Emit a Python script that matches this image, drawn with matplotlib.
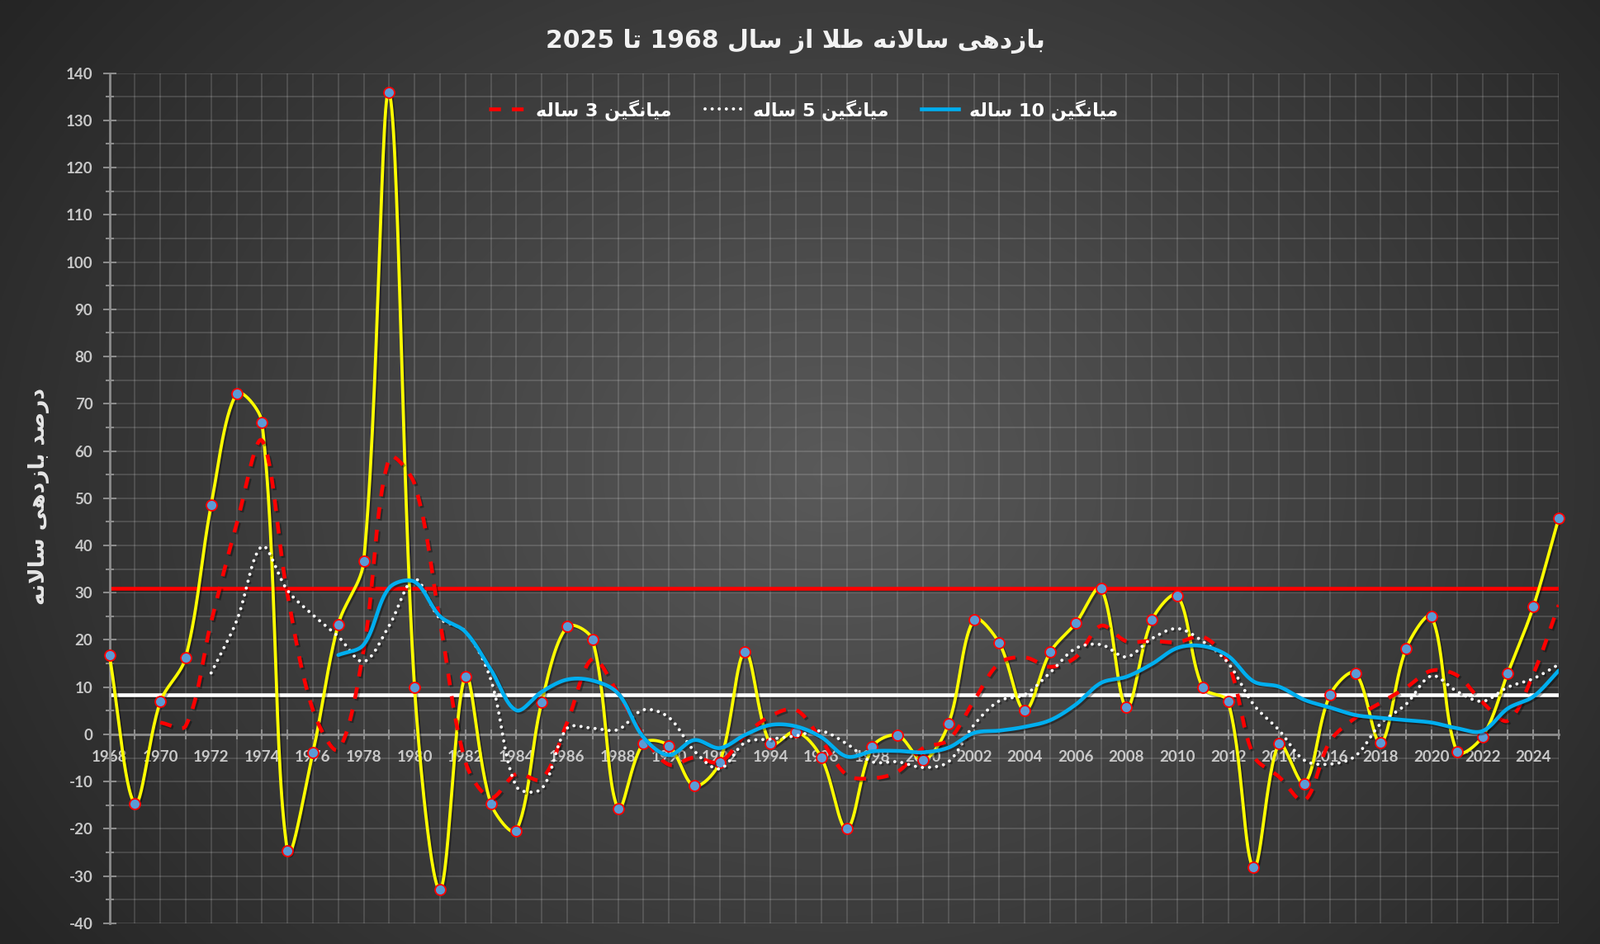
import numpy as np
import matplotlib
matplotlib.use("Agg")
import matplotlib.pyplot as plt
from matplotlib.lines import Line2D
import matplotlib.patheffects as pe
from matplotlib.font_manager import FontProperties

plt.rcParams["axes.unicode_minus"] = False

# ---------------- data ----------------
years = list(range(1968, 2026))
returns = [16.7, -14.6, 6.9, 16.3, 48.5, 72.1, 66.1, -24.7, -3.9, 23.3,
           36.6, 135.9, 9.9, -32.9, 12.3, -14.6, -20.4, 6.8, 22.8, 20.0,
           -15.7, -1.9, -2.4, -10.9, -5.9, 17.5, -2.0, 0.6, -4.9, -20.0,
           -2.7, -0.2, -5.5, 2.2, 24.3, 19.3, 5.1, 17.4, 23.5, 30.9,
           5.7, 24.2, 29.4, 9.9, 6.9, -28.2, -2.0, -10.4, 8.3, 13.0,
           -1.8, 18.2, 24.9, -3.7, -0.5, 13.0, 27.0, 45.8]

ma3_start = 1970
ma3 = [2.5, 1.8, 23.8, 44.5, 62.2, 29.7, 5.2, -3.2, 18.0, 58.5,
       53.0, 23.9, -5.8, -13.4, -8.4, -9.5, 2.5, 16.0, 8.7, -0.3,
       -6.4, -4.9, -5.9, -0.2, 3.9, 5.2, -1.2, -8.6, -9.3, -7.9,
       -2.9, -1.2, 7.1, 15.1, 16.3, 14.3, 16.3, 23.0, 19.7, 19.8,
       19.5, 20.7, 15.1, -4.5, -9.0, -14.0, -1.5, 3.5, 6.7, 9.9,
       13.5, 12.5, 6.8, 2.9, 12.8, 27.4]

ma5_start = 1972
ma5 = [13.0, 24.0, 39.8, 30.5, 25.3, 20.7, 15.4, 23.0, 32.9, 24.5,
       21.8, 11.6, -11.0, -11.5, 1.3, 1.3, 1.0, 5.2, 3.6, -3.5,
       -7.3, -1.7, -1.0, -0.3, 0.7, -2.0, -5.8, -5.8, -7.0, -5.8,
       2.0, 7.1, 8.4, 13.1, 18.2, 19.0, 16.4, 20.3, 22.4, 19.7,
       15.1, 6.3, 0.9, -5.5, -6.3, -4.6, 2.3, 6.4, 12.4, 9.1,
       7.0, 10.0, 11.8, 14.8]

ma10_start = 1977
ma10 = [16.8, 19.0, 31.0, 32.3, 25.0, 21.7, 13.7, 5.1, 9.0, 11.6,
        11.4, 8.7, -0.6, -4.4, -1.2, -2.9, -0.1, 2.0, 1.7, -0.6,
        -4.7, -3.6, -3.5, -3.8, -2.8, 0.3, 0.8, 1.6, 3.0, 6.3,
        10.9, 12.2, 14.9, 18.3, 18.7, 16.6, 11.2, 10.1, 7.3, 5.7,
        4.1, 3.5, 3.0, 2.5, 1.3, 0.7, 5.5, 8.0, 13.5]

upper_level = 30.9
mean_level = 8.4

title_text = "بازدهی سالانه طلا از سال 1968 تا 2025"
ylabel_text = "درصد بازدهی سالانه"
legend_labels = ["میانگین 3 ساله", "میانگین 5 ساله", "میانگین 10 ساله"]
y_ticks = list(range(-40, 141, 10))
x_tick_labels = [str(y) if y % 2 == 0 else "" for y in years]

# ---------------- Persian shaping ----------------
FORMS = {
    'ا': ('\uFE8D', '\uFE8E', None, None),
    'ب': ('\uFE8F', '\uFE90', '\uFE91', '\uFE92'),
    'ت': ('\uFE95', '\uFE96', '\uFE97', '\uFE98'),
    'د': ('\uFEA9', '\uFEAA', None, None),
    'ر': ('\uFEAD', '\uFEAE', None, None),
    'ز': ('\uFEAF', '\uFEB0', None, None),
    'س': ('\uFEB1', '\uFEB2', '\uFEB3', '\uFEB4'),
    'ص': ('\uFEB9', '\uFEBA', '\uFEBB', '\uFEBC'),
    'ط': ('\uFEC1', '\uFEC2', '\uFEC3', '\uFEC4'),
    'ل': ('\uFEDD', '\uFEDE', '\uFEDF', '\uFEE0'),
    'م': ('\uFEE1', '\uFEE2', '\uFEE3', '\uFEE4'),
    'ن': ('\uFEE5', '\uFEE6', '\uFEE7', '\uFEE8'),
    'ه': ('\uFEE9', '\uFEEA', '\uFEEB', '\uFEEC'),
    'ی': ('\uFBFC', '\uFBFD', '\uFBFE', '\uFBFF'),
    'گ': ('\uFB92', '\uFB93', '\uFB94', '\uFB95'),
    'LA': ('\uFEFB', '\uFEFC', None, None),
}


def shape_fa(s):
    units = []
    i = 0
    while i < len(s):
        if s[i] == 'ل' and i + 1 < len(s) and s[i + 1] == 'ا':
            units.append('LA')
            i += 2
        else:
            units.append(s[i])
            i += 1
    out = []
    for k, u in enumerate(units):
        if u not in FORMS:
            out.append(u)
            continue
        f = FORMS[u]
        prev = units[k - 1] if k > 0 else None
        nxt = units[k + 1] if k + 1 < len(units) else None
        jp = prev in FORMS and FORMS[prev][2] is not None
        jn = f[2] is not None and nxt in FORMS
        if jp and jn:
            out.append(f[3])
        elif jp:
            out.append(f[1])
        elif jn:
            out.append(f[2])
        else:
            out.append(f[0])
    shaped = "".join(out)
    tokens = []
    cur = ""
    cur_digit = None
    for ch in shaped:
        d = ch.isdigit()
        if cur and d != cur_digit:
            tokens.append((cur, cur_digit))
            cur = ""
        cur += ch
        cur_digit = d
    if cur:
        tokens.append((cur, cur_digit))
    return "".join(t if d else t[::-1] for t, d in reversed(tokens))


# Excel-like smoothing (Bezier with control points proportional to segment lengths,
# measured in screen space)
PX_PER_YEAR = 30.8
PX_PER_UNIT = 5.725


def smooth(xs, ys, n=30):
    P = np.column_stack([np.asarray(xs, float) * PX_PER_YEAR,
                         np.asarray(ys, float) * PX_PER_UNIT])
    out = [P[0]]
    t = np.linspace(0, 1, n + 1)[1:, None]
    N = len(P)
    for i in range(N - 1):
        p0 = P[i - 1] if i > 0 else P[i]
        p1, p2 = P[i], P[i + 1]
        p3 = P[i + 2] if i + 2 < N else P[i + 1]
        d01 = np.hypot(*(p1 - p0))
        d12 = np.hypot(*(p2 - p1))
        d23 = np.hypot(*(p3 - p2))
        f1 = d12 / (d01 + d12) if (d01 + d12) > 0 else 0
        f2 = d12 / (d12 + d23) if (d12 + d23) > 0 else 0
        c1 = p1 + (p2 - p0) * f1 / 3.0
        c2 = p2 - (p3 - p1) * f2 / 3.0
        seg = ((1 - t) ** 3) * p1 + 3 * ((1 - t) ** 2) * t * c1 + 3 * (1 - t) * t ** 2 * c2 + t ** 3 * p2
        out.extend(seg)
    out = np.array(out)
    out[:, 0] /= PX_PER_YEAR
    out[:, 1] /= PX_PER_UNIT
    return out


# ---------------- figure ----------------
fig = plt.figure(figsize=(19.38, 11.44), dpi=100)

bg = fig.add_axes([0, 0, 1, 1], zorder=-10)
H, W = 300, 500
yy, xx = np.mgrid[0:H, 0:W]
fx = xx / (W - 1)
fy = yy / (H - 1)
r = np.sqrt(((fx - 0.52) / 0.55) ** 2 + ((fy - 0.5) / 0.75) ** 2)
c_center, c_edge = 0x5a / 255.0, 0x25 / 255.0
val = c_center - (c_center - c_edge) * np.clip(r / 1.15, 0, 1)
img = np.dstack([val, val, val])
bg.imshow(img, extent=[0, 1, 0, 1], aspect="auto", interpolation="bilinear", origin="upper")
bg.set_axis_off()

ax = fig.add_axes([0.0684, 0.0219, 0.9058, 0.9007])
ax.set_facecolor("none")
ax.set_xlim(1968, 2025)
ax.set_ylim(-40, 140)

axis_gray = "#8c8c8c"
lbl_gray = "#c8c8c8"

ax.set_xticks(years)
ax.set_xticklabels(x_tick_labels)
ax.set_yticks(y_ticks)
ax.set_yticks([v + 5 for v in y_ticks[:-1]], minor=True)

for s in ("top", "right"):
    ax.spines[s].set_visible(False)
ax.spines["bottom"].set_position(("data", 0))
ax.spines["bottom"].set_color(axis_gray)
ax.spines["bottom"].set_linewidth(2)
ax.spines["left"].set_color(axis_gray)
ax.spines["left"].set_linewidth(2)

ax.tick_params(axis="x", which="major", direction="inout", length=9, width=1.5,
               color=axis_gray, pad=9, labelcolor=lbl_gray)
ax.tick_params(axis="y", which="major", direction="inout", length=11, width=1.5,
               color=axis_gray, pad=9, labelcolor=lbl_gray)
ax.tick_params(axis="y", which="minor", direction="inout", length=6.5, width=1.5,
               color=axis_gray)
tick_fp = FontProperties(family="Lato", weight="bold", size=13.5)
for lab in ax.get_xticklabels() + ax.get_yticklabels():
    lab.set_fontproperties(tick_fp)

ax.set_axisbelow(True)
ax.xaxis.grid(True, which="major", color="white", alpha=0.15, lw=1.3)
ax.yaxis.grid(True, which="major", color="white", alpha=0.15, lw=1.3)
ax.yaxis.grid(True, which="minor", color="white", alpha=0.15, lw=1.3)

shadow = [pe.SimpleLineShadow(offset=(1.5, -1.5), shadow_color="black", alpha=0.35), pe.Normal()]

ax.axhline(upper_level, color="#ff0000", lw=3.3, zorder=2.5, path_effects=shadow)
ax.axhline(mean_level, color="#ffffff", lw=3.3, zorder=2.5, path_effects=shadow)

sm = smooth(years, returns)
ax.plot(sm[:, 0], sm[:, 1], color="#ffff00", lw=2.7, zorder=3, path_effects=shadow,
        solid_capstyle="round", clip_on=False)
ax.plot(years, returns, linestyle="none", marker="o", markersize=9.3,
        markerfacecolor="#5b9bd5", markeredgecolor="#ff0000", markeredgewidth=1.3,
        zorder=3.2, clip_on=False)

y3 = list(range(ma3_start, ma3_start + len(ma3)))
y5 = list(range(ma5_start, ma5_start + len(ma5)))
y10 = list(range(ma10_start, ma10_start + len(ma10)))
s3 = smooth(y3, ma3)
s5 = smooth(y5, ma5)
s10 = smooth(y10, ma10)

red_ls = (0, (3.1, 2.9))
dot_ls = (0, (0.01, 2.2))
ax.plot(s3[:, 0], s3[:, 1], color="#ff0000", lw=3.3, ls=red_ls, zorder=4,
        dash_capstyle="butt", path_effects=shadow)
ax.plot(s5[:, 0], s5[:, 1], color="#ffffff", lw=2.8, ls=dot_ls, zorder=4.1,
        dash_capstyle="round", path_effects=shadow)
ax.plot(s10[:, 0], s10[:, 1], color="#00aeef", lw=3.3, zorder=4.2,
        solid_capstyle="round", path_effects=shadow)

handles = [
    Line2D([], [], color="#ff0000", lw=3.3, ls=red_ls, dash_capstyle="butt"),
    Line2D([], [], color="#ffffff", lw=2.8, ls=dot_ls, dash_capstyle="round"),
    Line2D([], [], color="#00aeef", lw=3.3),
]
leg = fig.legend(handles, [shape_fa(t) for t in legend_labels], loc="center",
                 bbox_to_anchor=(0.502, 1 - 133 / 1144), ncol=3, frameon=False,
                 handlelength=2.0, handletextpad=0.6, columnspacing=1.8,
                 prop=dict(family="DejaVu Sans", weight="bold", size=16))
for t in leg.get_texts():
    t.set_color("#ffffff")

fig.text(0.497, 1 - 50 / 1144, shape_fa(title_text), ha="center", va="center",
         fontsize=21.5, fontweight="bold", color="#f2f2f2", family="DejaVu Sans")
fig.text(0.0243, 0.474, shape_fa(ylabel_text), ha="center", va="center", rotation=90,
         fontsize=19, fontweight="bold", color="#e6e6e6", family="DejaVu Sans")

fig.savefig("out.png", dpi=100)
